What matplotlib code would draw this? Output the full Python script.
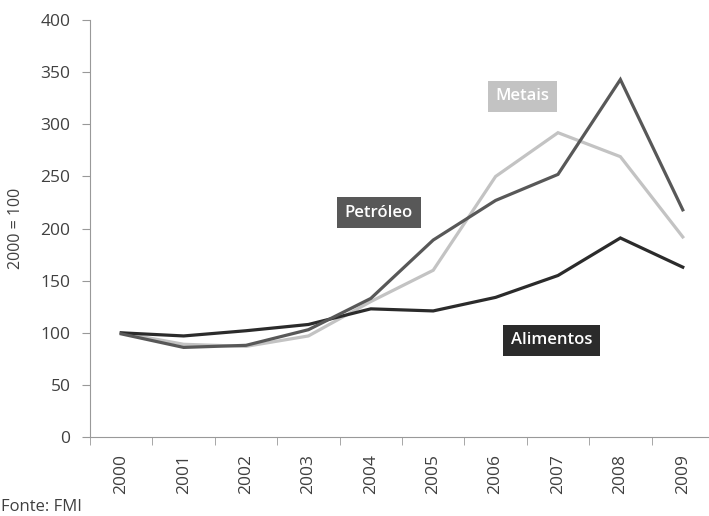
import numpy as np
import matplotlib.pyplot as plt

plt.rcParams['font.family'] = ['Open Sans', 'DejaVu Sans']

anos = ['2000', '2001', '2002', '2003', '2004', '2005', '2006', '2007', '2008', '2009']
alimentos = [100, 97, 102, 108, 123, 121, 134, 155, 191, 163]
petroleo = [99, 86, 88, 103, 133, 189, 227, 252, 343, 218]
metais = [100, 89, 87, 97, 130, 160, 250, 292, 269, 192]

x = np.arange(len(anos))

fig = plt.figure(figsize=(7.09, 5.16), dpi=100)
ax = fig.add_axes([0.127, 0.153, 0.88, 0.808])

ax.plot(x, metais, color='#c3c3c3', lw=2.3, solid_joinstyle='miter')
ax.plot(x, alimentos, color='#2b2b2b', lw=2.3, solid_joinstyle='miter')
ax.plot(x, petroleo, color='#585858', lw=2.3, solid_joinstyle='miter')

ax.set_xlim(-0.5, 9.5)
ax.set_ylim(0, 400)
ax.set_yticks(range(0, 401, 50))

# rótulos no centro, marcas entre categorias
ax.set_xticks(x)
ax.set_xticklabels(anos, rotation=90)
ax.set_xticks(np.arange(-0.5, 10, 1), minor=True)
ax.tick_params(axis='x', which='major', length=0, pad=12)
ax.tick_params(axis='x', which='minor', length=6, color='#999999')
ax.tick_params(axis='y', length=6, color='#999999', pad=8)
ax.tick_params(labelsize=12.5, labelcolor='#404040')

for s in ['top', 'right']:
    ax.spines[s].set_visible(False)
for s in ['left', 'bottom']:
    ax.spines[s].set_color('#999999')

ax.set_ylabel('2000 = 100', fontsize=11.5, color='#404040', labelpad=12)

# caixas de rótulo
box = dict(boxstyle='square,pad=0.45', ec='none')
ax.text(6.43, 327, 'Metais', color='white', fontsize=12, fontweight='semibold',
        ha='center', va='center', bbox=dict(box, fc='#c3c3c3'))
ax.text(4.13, 215, 'Petróleo', color='white', fontsize=12, fontweight='semibold',
        ha='center', va='center', bbox=dict(box, fc='#585858'))
ax.text(6.9, 93, 'Alimentos', color='white', fontsize=12, fontweight='semibold',
        ha='center', va='center', bbox=dict(box, fc='#2b2b2b'))

fig.text(0.002, 0.002, 'Fonte: FMI', fontsize=12, color='#404040', ha='left', va='bottom')

fig.savefig('out.png', dpi=100)
